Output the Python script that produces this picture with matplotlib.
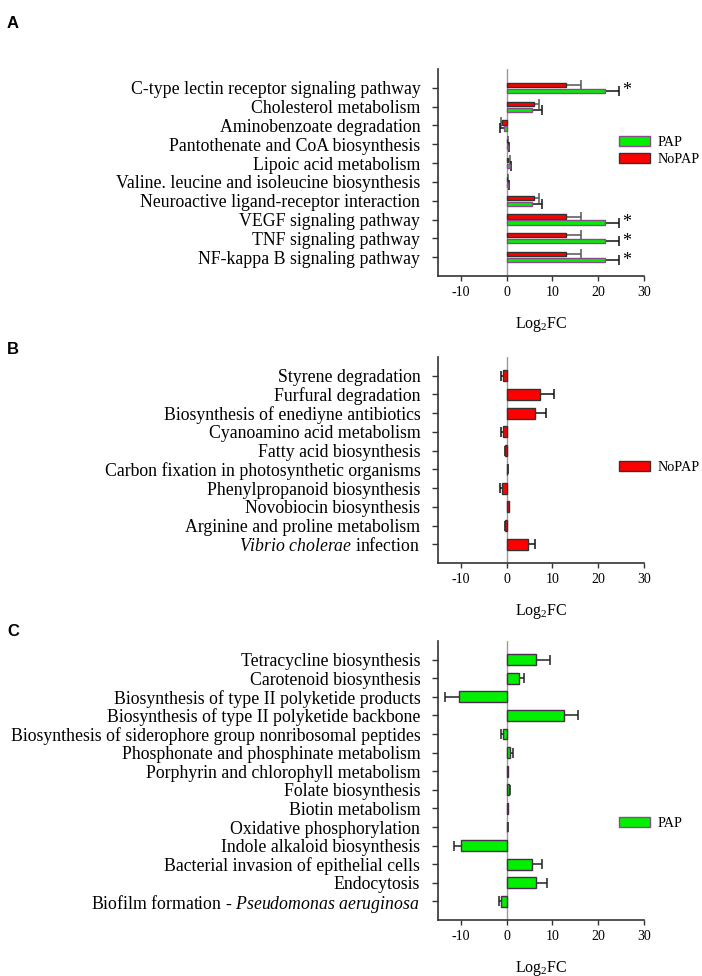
import matplotlib
matplotlib.use('Agg')
import matplotlib.pyplot as plt
from matplotlib.patches import Patch
import numpy as np

plt.rcParams['font.family'] = ['Liberation Serif', 'DejaVu Serif']
plt.rcParams['mathtext.fontset'] = 'custom'
plt.rcParams['mathtext.rm'] = 'Liberation Serif'
plt.rcParams['mathtext.it'] = 'Liberation Serif:italic'

# ---------------- data ----------------
a_labels = ['C-type lectin receptor signaling pathway', 'Cholesterol metabolism',
            'Aminobenzoate degradation', 'Pantothenate and CoA biosynthesis',
            'Lipoic acid metabolism', 'Valine. leucine and isoleucine biosynthesis',
            'Neuroactive ligand-receptor interaction', 'VEGF signaling pathway',
            'TNF signaling pathway', 'NF-kappa B signaling pathway']
a_pap = [21.4, 5.6, -0.6, 0.3, 0.7, 0.3, 5.6, 21.4, 21.4, 21.4]
a_pap_err = [3.1, 2.1, 0.8, 0.2, 0.3, 0.2, 2.1, 3.1, 3.1, 3.1]
a_nopap = [13.0, 5.9, -0.9, 0.2, 0.4, 0.2, 5.9, 13.0, 13.0, 13.0]
a_nopap_err = [3.2, 1.2, 0.4, 0.1, 0.3, 0.1, 1.2, 3.2, 3.2, 3.2]
a_sig = ['*', '', '', '', '', '', '', '*', '*', '*']

b_labels = ['Styrene degradation', 'Furfural degradation',
            'Biosynthesis of enediyne antibiotics', 'Cyanoamino acid metabolism',
            'Fatty acid biosynthesis', 'Carbon fixation in photosynthetic organisms',
            'Phenylpropanoid biosynthesis', 'Novobiocin biosynthesis',
            'Arginine and proline metabolism', r'$\it{Vibrio\ cholerae}$ infection']
b_nopap = [-0.8, 7.2, 6.3, -0.8, -0.25, 0.2, -1.0, 0.45, -0.3, 4.6]
b_nopap_err = [0.4, 3.2, 2.2, 0.4, 0.1, 0.1, 0.45, 0.1, 0.1, 1.5]

c_labels = ['Tetracycline biosynthesis', 'Carotenoid biosynthesis',
            'Biosynthesis of type II polyketide products',
            'Biosynthesis of type II polyketide backbone',
            'Biosynthesis of siderophore group nonribosomal peptides',
            'Phosphonate and phosphinate metabolism',
            'Porphyrin and chlorophyll metabolism', 'Folate biosynthesis',
            'Biotin metabolism', 'Oxidative phosphorylation',
            'Indole alkaloid biosynthesis', 'Bacterial invasion of epithelial cells',
            'Endocytosis', r'Biofilm formation - $\it{Pseudomonas\ aeruginosa}$ ']
c_pap = [6.4, 2.75, -10.4, 12.5, -0.8, 0.8, 0.3, 0.6, 0.3, 0.2, -10.0, 5.5, 6.45, -1.15]
c_pap_err = [3.0, 1.05, 3.1, 3.1, 0.4, 0.5, 0.1, 0.25, 0.1, 0.05, 1.5, 2.2, 2.35, 0.55]

x_ticks = [-10, 0, 10, 20, 30]

GREEN = '#00f000'
GREEN_EDGE_A = '#8a4a8e'
GREEN_EDGE = '#4a2d4c'
RED = '#ff0000'
RED_EDGE = '#333333'

fig = plt.figure(figsize=(7.02, 9.76), dpi=100)
W, H = 702.0, 976.0


def make_ax(top_px, bottom_px):
    left_px, right_px = 437.7, 644.3
    return fig.add_axes([left_px / W, 1 - bottom_px / H,
                         (right_px - left_px) / W, (bottom_px - top_px) / H])


def draw_bars(ax, y, vals, errs, color, edge, height, ecolor, capsize):
    vals = np.asarray(vals, float)
    errs = np.asarray(errs, float)
    ax.barh(y, vals, height=height, color=color, edgecolor=edge, linewidth=1.0, zorder=3)
    tips = vals + np.sign(vals) * errs
    ax.hlines(y, vals, tips, color=ecolor, lw=1.1, zorder=2)
    ax.plot(tips, y, ls='none', marker='|', ms=capsize, mew=1.1, color=ecolor, zorder=2)
    return tips


def style_ax(ax, labels):
    n = len(labels)
    ax.set_xlim(-15, 30)
    ax.set_ylim(n, -1)
    ax.set_yticks(np.arange(n))
    ax.set_yticklabels(labels, fontsize=12.75)
    ax.set_xticks(x_ticks)
    ax.set_xticklabels([str(t) for t in x_ticks], fontsize=10)
    ax.axvline(0, color='#9a9a9a', lw=1.0, zorder=1)
    for s in ['top', 'right']:
        ax.spines[s].set_visible(False)
    for s in ['left', 'bottom']:
        ax.spines[s].set_color('#333333')
        ax.spines[s].set_linewidth(1.2)
    ax.tick_params(axis='y', direction='out', length=4.5, width=1.0, color='#333333', pad=8)
    ax.tick_params(axis='x', direction='out', length=3.5, width=1.0, color='#333333', pad=4)
    ax.set_xlabel(r'Log$_2$FC', fontsize=11.5, labelpad=11)


def add_legend(ax, handles, labels, top_px):
    ax.legend(handles, labels, loc='upper left',
              bbox_to_anchor=(619 / W, 1 - top_px / H), bbox_transform=fig.transFigure,
              frameon=False, fontsize=10.3, handlelength=2.2, handleheight=0.7,
              handletextpad=0.5, labelspacing=0.25, borderpad=0, borderaxespad=0)


# ---------------- Panel A ----------------
axA = make_ax(69, 276)
yA = np.arange(len(a_labels))
draw_bars(axA, yA - 0.16, a_nopap, a_nopap_err, RED, RED_EDGE, 0.22, '#555555', 7)
tipsA = draw_bars(axA, yA + 0.16, a_pap, a_pap_err, GREEN, GREEN_EDGE_A, 0.22, '#111111', 7)
for yi, t, s in zip(yA, tipsA, a_sig):
    if s:
        axA.text(t + 0.6, yi + 0.15, s, fontsize=13, va='center', ha='left')
style_ax(axA, a_labels)
add_legend(axA, [Patch(facecolor=GREEN, edgecolor=GREEN_EDGE_A),
                 Patch(facecolor=RED, edgecolor=RED_EDGE)], ['PAP', 'NoPAP'], 136)

# ---------------- Panel B ----------------
axB = make_ax(357, 563)
yB = np.arange(len(b_labels))
draw_bars(axB, yB, b_nopap, b_nopap_err, RED, RED_EDGE, 0.58, '#111111', 7)
style_ax(axB, b_labels)
add_legend(axB, [Patch(facecolor=RED, edgecolor=RED_EDGE)], ['NoPAP'], 461)

# ---------------- Panel C ----------------
axC = make_ax(641, 920)
yC = np.arange(len(c_labels))
draw_bars(axC, yC, c_pap, c_pap_err, GREEN, GREEN_EDGE, 0.58, '#222222', 7)
style_ax(axC, c_labels)
add_legend(axC, [Patch(facecolor=GREEN, edgecolor=GREEN_EDGE_A)], ['PAP'], 817)

# panel letters
for letter, ypx in [('A', 24), ('B', 349), ('C', 632)]:
    fig.text(7 / W, 1 - ypx / H, letter, fontsize=12, fontweight='bold',
             family='Liberation Sans', va='center', ha='left')

fig.savefig('out.png', dpi=100)
